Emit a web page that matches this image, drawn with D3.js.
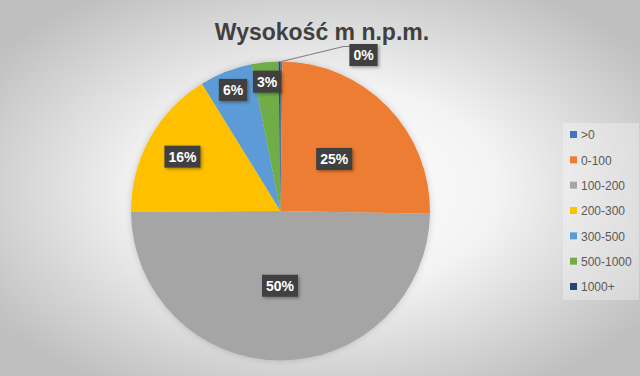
<!DOCTYPE html>
<html>
<head>
<meta charset="utf-8">
<script src="https://cdn.jsdelivr.net/npm/d3@7"></script>
<style>
  body { margin:0; padding:0; overflow:hidden; }
  svg { display:block; font-family: "Liberation Sans", "DejaVu Sans", sans-serif; }
</style>
</head>
<body>
<div id="chart-area"></div>
<script>
// data (share of area, %)
var categories = [">0", "0-100", "100-200", "200-300", "300-500", "500-1000", "1000+"];
var values = [0.2, 25.1, 49.6, 16.3, 5.7, 2.9, 0.2];
var colors = ["#4472C4", "#ED7D31", "#A5A5A5", "#FFC000", "#5B9BD5", "#70AD47", "#264478"];
var title = "Wysokość m n.p.m.";

var width = 640, height = 376;
var cx = 280.5, cy = 211, radius = 149.5;

var data = categories.map(function(c, i){
    return { name: c, value: values[i], color: colors[i] };
});

var svg = d3.select("#chart-area")
    .append("svg")
        .attr("width", width)
        .attr("height", height);

var defs = svg.append("defs");

// background vignette
var bg = defs.append("radialGradient")
    .attr("id", "bg")
    .attr("cx", "50%").attr("cy", "50%").attr("r", "62%");
bg.append("stop").attr("offset", "0%").attr("stop-color", "#ffffff");
bg.append("stop").attr("offset", "45%").attr("stop-color", "#f3f3f3");
bg.append("stop").attr("offset", "100%").attr("stop-color", "#bfbfbf");

var shadow = defs.append("filter")
    .attr("id", "shadow")
    .attr("x", "-30%").attr("y", "-30%")
    .attr("width", "160%").attr("height", "160%");
shadow.append("feDropShadow")
    .attr("dx", 1.5).attr("dy", 1.5)
    .attr("stdDeviation", 1.5)
    .attr("flood-color", "#000")
    .attr("flood-opacity", 0.35);

var pieShadow = defs.append("filter")
    .attr("id", "pieShadow")
    .attr("x", "-10%").attr("y", "-10%")
    .attr("width", "120%").attr("height", "120%");
pieShadow.append("feDropShadow")
    .attr("dx", 0).attr("dy", 0)
    .attr("stdDeviation", 3)
    .attr("flood-color", "#000")
    .attr("flood-opacity", 0.18);

svg.append("rect")
    .attr("width", width)
    .attr("height", height)
    .attr("fill", "url(#bg)");

// title
svg.append("text")
    .attr("x", 322)
    .attr("y", 40)
    .attr("text-anchor", "middle")
    .attr("font-size", "23px")
    .attr("font-weight", "bold")
    .attr("fill", "#404040")
    .text(title);

// pie
var pie = d3.pie()
    .sort(null)
    .value(function(d){ return d.value; });

var arc = d3.arc()
    .innerRadius(0)
    .outerRadius(radius);

var arcs = pie(data);

var g = svg.append("g")
    .attr("transform", "translate(" + cx + "," + cy + ")");

g.append("g")
    .attr("filter", "url(#pieShadow)")
  .selectAll("path")
    .data(arcs)
    .enter()
    .append("path")
        .attr("d", arc)
        .attr("fill", function(d){ return d.data.color; });

// labels - bigger slices sit closer to the centre (like excel best fit)
var total = d3.sum(values);
function labelRadius(v){
    if (v >= 20) return radius * 0.5;
    if (v >= 10) return radius * 0.75;
    return radius * 0.87;
}

var labels = g.append("g");

arcs.forEach(function(d, i){
    var pct = Math.round(d.data.value / total * 100) + "%";
    var mid = (d.startAngle + d.endAngle) / 2;
    var x, y;
    if (d.data.value >= 1) {
        var r = labelRadius(d.data.value);
        x = Math.sin(mid) * r;
        y = -Math.cos(mid) * r;
    } else if (i === 0) {
        // tiny slice: label pulled out with a leader line
        var px = Math.sin(mid) * radius, py = -Math.cos(mid) * radius;
        x = 83; y = -156;
        labels.append("polyline")
            .attr("points", [[px, py], [x - 20, y - 8.5], [x - 13, y - 8.5]].join(" "))
            .attr("fill", "none")
            .attr("stroke", "#808080")
            .attr("stroke-width", 1.2);
    } else {
        return;
    }
    var lab = labels.append("g")
        .attr("transform", "translate(" + x + "," + y + ")");
    var t = lab.append("text")
        .attr("text-anchor", "middle")
        .attr("dy", "0.36em")
        .attr("font-size", "14px")
        .attr("font-weight", "bold")
        .attr("fill", "#ffffff")
        .text(pct);
    var w = t.node().getComputedTextLength() + 8;
    lab.insert("rect", "text")
        .attr("x", -w / 2)
        .attr("y", -11)
        .attr("width", w)
        .attr("height", 22)
        .attr("fill", "#404040")
        .attr("filter", "url(#shadow)");
});

// legend
var legend = svg.append("g")
    .attr("transform", "translate(563,123)");

legend.append("rect")
    .attr("width", 76)
    .attr("height", 177)
    .attr("fill", "#ffffff")
    .attr("fill-opacity", 0.3);

var y = d3.scalePoint()
    .domain(categories)
    .range([12, 164]);

var items = legend.selectAll(".item")
    .data(data)
    .enter()
    .append("g")
        .attr("class", "item")
        .attr("transform", function(d){ return "translate(7," + y(d.name) + ")"; });

items.append("rect")
    .attr("x", 0)
    .attr("y", -4)
    .attr("width", 7)
    .attr("height", 7)
    .attr("fill", function(d){ return d.color; });

items.append("text")
    .attr("x", 11)
    .attr("y", 0)
    .attr("dy", "0.35em")
    .attr("font-size", "12px")
    .attr("fill", "#595959")
    .text(function(d){ return d.name; });
</script>
</body>
</html>
